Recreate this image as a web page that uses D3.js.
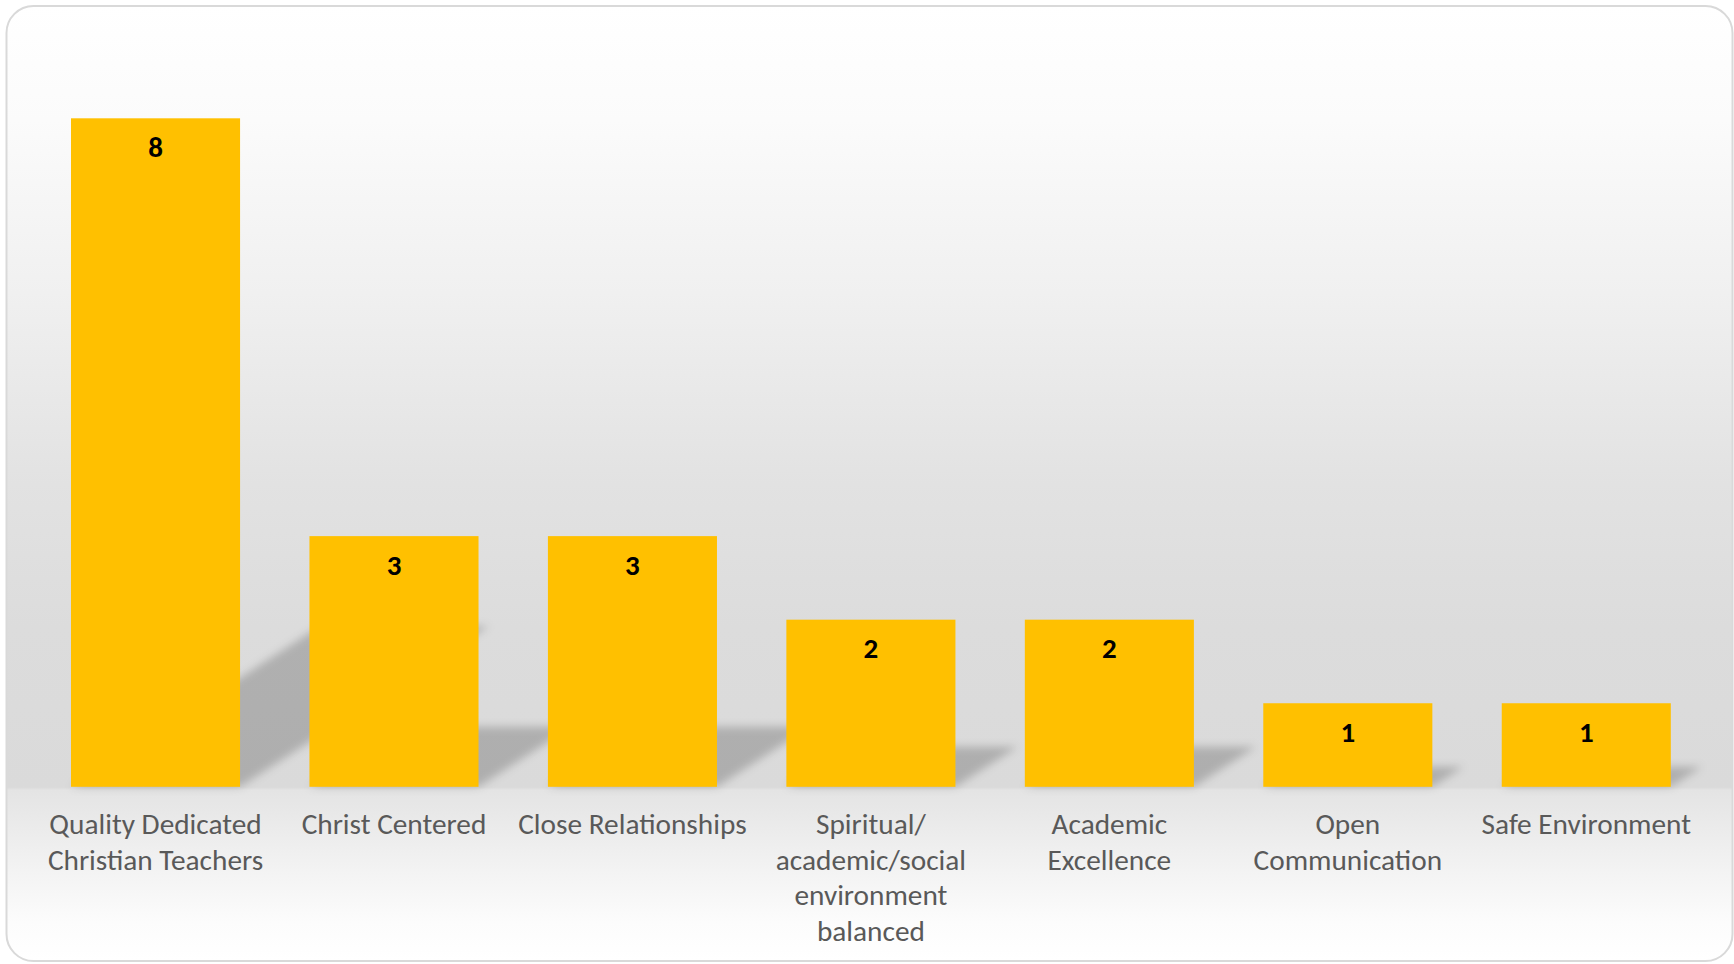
<!DOCTYPE html>
<html>
<head>
<meta charset="utf-8">
<script src="https://cdn.jsdelivr.net/npm/d3@7"></script>
<style>
  html, body { margin: 0; padding: 0; background: #ffffff; }
  svg { display: block; }
</style>
</head>
<body>
<svg id="chart" width="1734" height="964"></svg>
<script>
// ---- data ----
const categories = [
  "Quality Dedicated Christian Teachers",
  "Christ Centered",
  "Close Relationships",
  "Spiritual/ academic/social environment balanced",
  "Academic Excellence",
  "Open Communication",
  "Safe Environment"
];
const categoryLines = [
  ["Quality Dedicated", "Christian Teachers"],
  ["Christ Centered"],
  ["Close Relationships"],
  ["Spiritual/", "academic/social", "environment", "balanced"],
  ["Academic", "Excellence"],
  ["Open", "Communication"],
  ["Safe Environment"]
];
const values = [8, 3, 3, 2, 2, 1, 1];

// ---- setup ----
const W = 1734, H = 964;
const svg = d3.select("#chart");
const defs = svg.append("defs");

const bg = defs.append("linearGradient")
  .attr("id", "bgGrad").attr("x1", 0).attr("y1", 0).attr("x2", 0).attr("y2", 1);
[
  [0.00, "#ffffff"],
  [0.12, "#fbfbfb"],
  [0.30, "#f0f0f0"],
  [0.50, "#e2e2e2"],
  [0.65, "#dcdcdc"],
  [0.818, "#dadada"],
  [0.821, "#e4e4e4"],
  [0.90, "#f2f2f2"],
  [0.96, "#fcfcfc"],
  [1.00, "#ffffff"]
].forEach(([o, c]) => bg.append("stop").attr("offset", o).attr("stop-color", c));

const blur = defs.append("filter").attr("id", "shadowBlur")
  .attr("x", "-20%").attr("y", "-20%").attr("width", "140%").attr("height", "140%");
blur.append("feGaussianBlur").attr("stdDeviation", 4.5);

// chart area
svg.append("rect")
  .attr("x", 6.5).attr("y", 6).attr("width", 1726).attr("height", 955)
  .attr("rx", 27).attr("ry", 27)
  .attr("fill", "url(#bgGrad)")
  .attr("stroke", "#d9d9d9").attr("stroke-width", 2);

// scales
const x = d3.scaleBand()
  .domain(d3.range(categories.length))
  .range([36.3, 1705.5])
  .paddingInner(0.291)
  .paddingOuter(0.1455);

const y = d3.scaleLinear().domain([0, 8]).range([786.8, 118.3]);

const base = y(0);
const shadowScale = 0.24, shadowSkew = 1.55;

// shadows
svg.append("g").attr("filter", "url(#shadowBlur)")
  .selectAll("path").data(values).join("path")
  .attr("d", (d, i) => {
    const x0 = x(i), x1 = x(i) + x.bandwidth();
    const h = base - y(d);
    const sh = h * shadowScale, dx = sh * shadowSkew;
    return `M${x0},${base}L${x1},${base}L${x1 + dx},${base - sh}L${x0 + dx},${base - sh}Z`;
  })
  .attr("fill", "#000")
  .attr("fill-opacity", 0.2);

// bars
svg.append("g").selectAll("rect").data(values).join("rect")
  .attr("x", (d, i) => x(i))
  .attr("y", d => y(d))
  .attr("width", x.bandwidth())
  .attr("height", d => base - y(d))
  .attr("fill", "#FFC000");

// value labels
svg.append("g").selectAll("text").data(values).join("text")
  .attr("x", (d, i) => x(i) + x.bandwidth() / 2)
  .attr("y", d => y(d) + 38.5)
  .attr("text-anchor", "middle")
  .attr("font-family", "Carlito, Calibri, 'Open Sans', sans-serif")
  .attr("font-weight", "bold")
  .attr("font-size", 29)
  .attr("fill", "#000000")
  .text(d => d);

// category labels
const lab = svg.append("g").selectAll("text").data(categoryLines).join("text")
  .attr("text-anchor", "middle")
  .attr("font-family", "Carlito, Calibri, 'Open Sans', sans-serif")
  .attr("font-size", 29.3)
  .attr("fill", "#595959");
lab.each(function(lines, i) {
  const t = d3.select(this);
  lines.forEach((ln, k) => {
    t.append("tspan")
      .attr("x", x(i) + x.bandwidth() / 2)
      .attr("y", 834 + k * 35.6)
      .text(ln);
  });
});
</script>
</body>
</html>
